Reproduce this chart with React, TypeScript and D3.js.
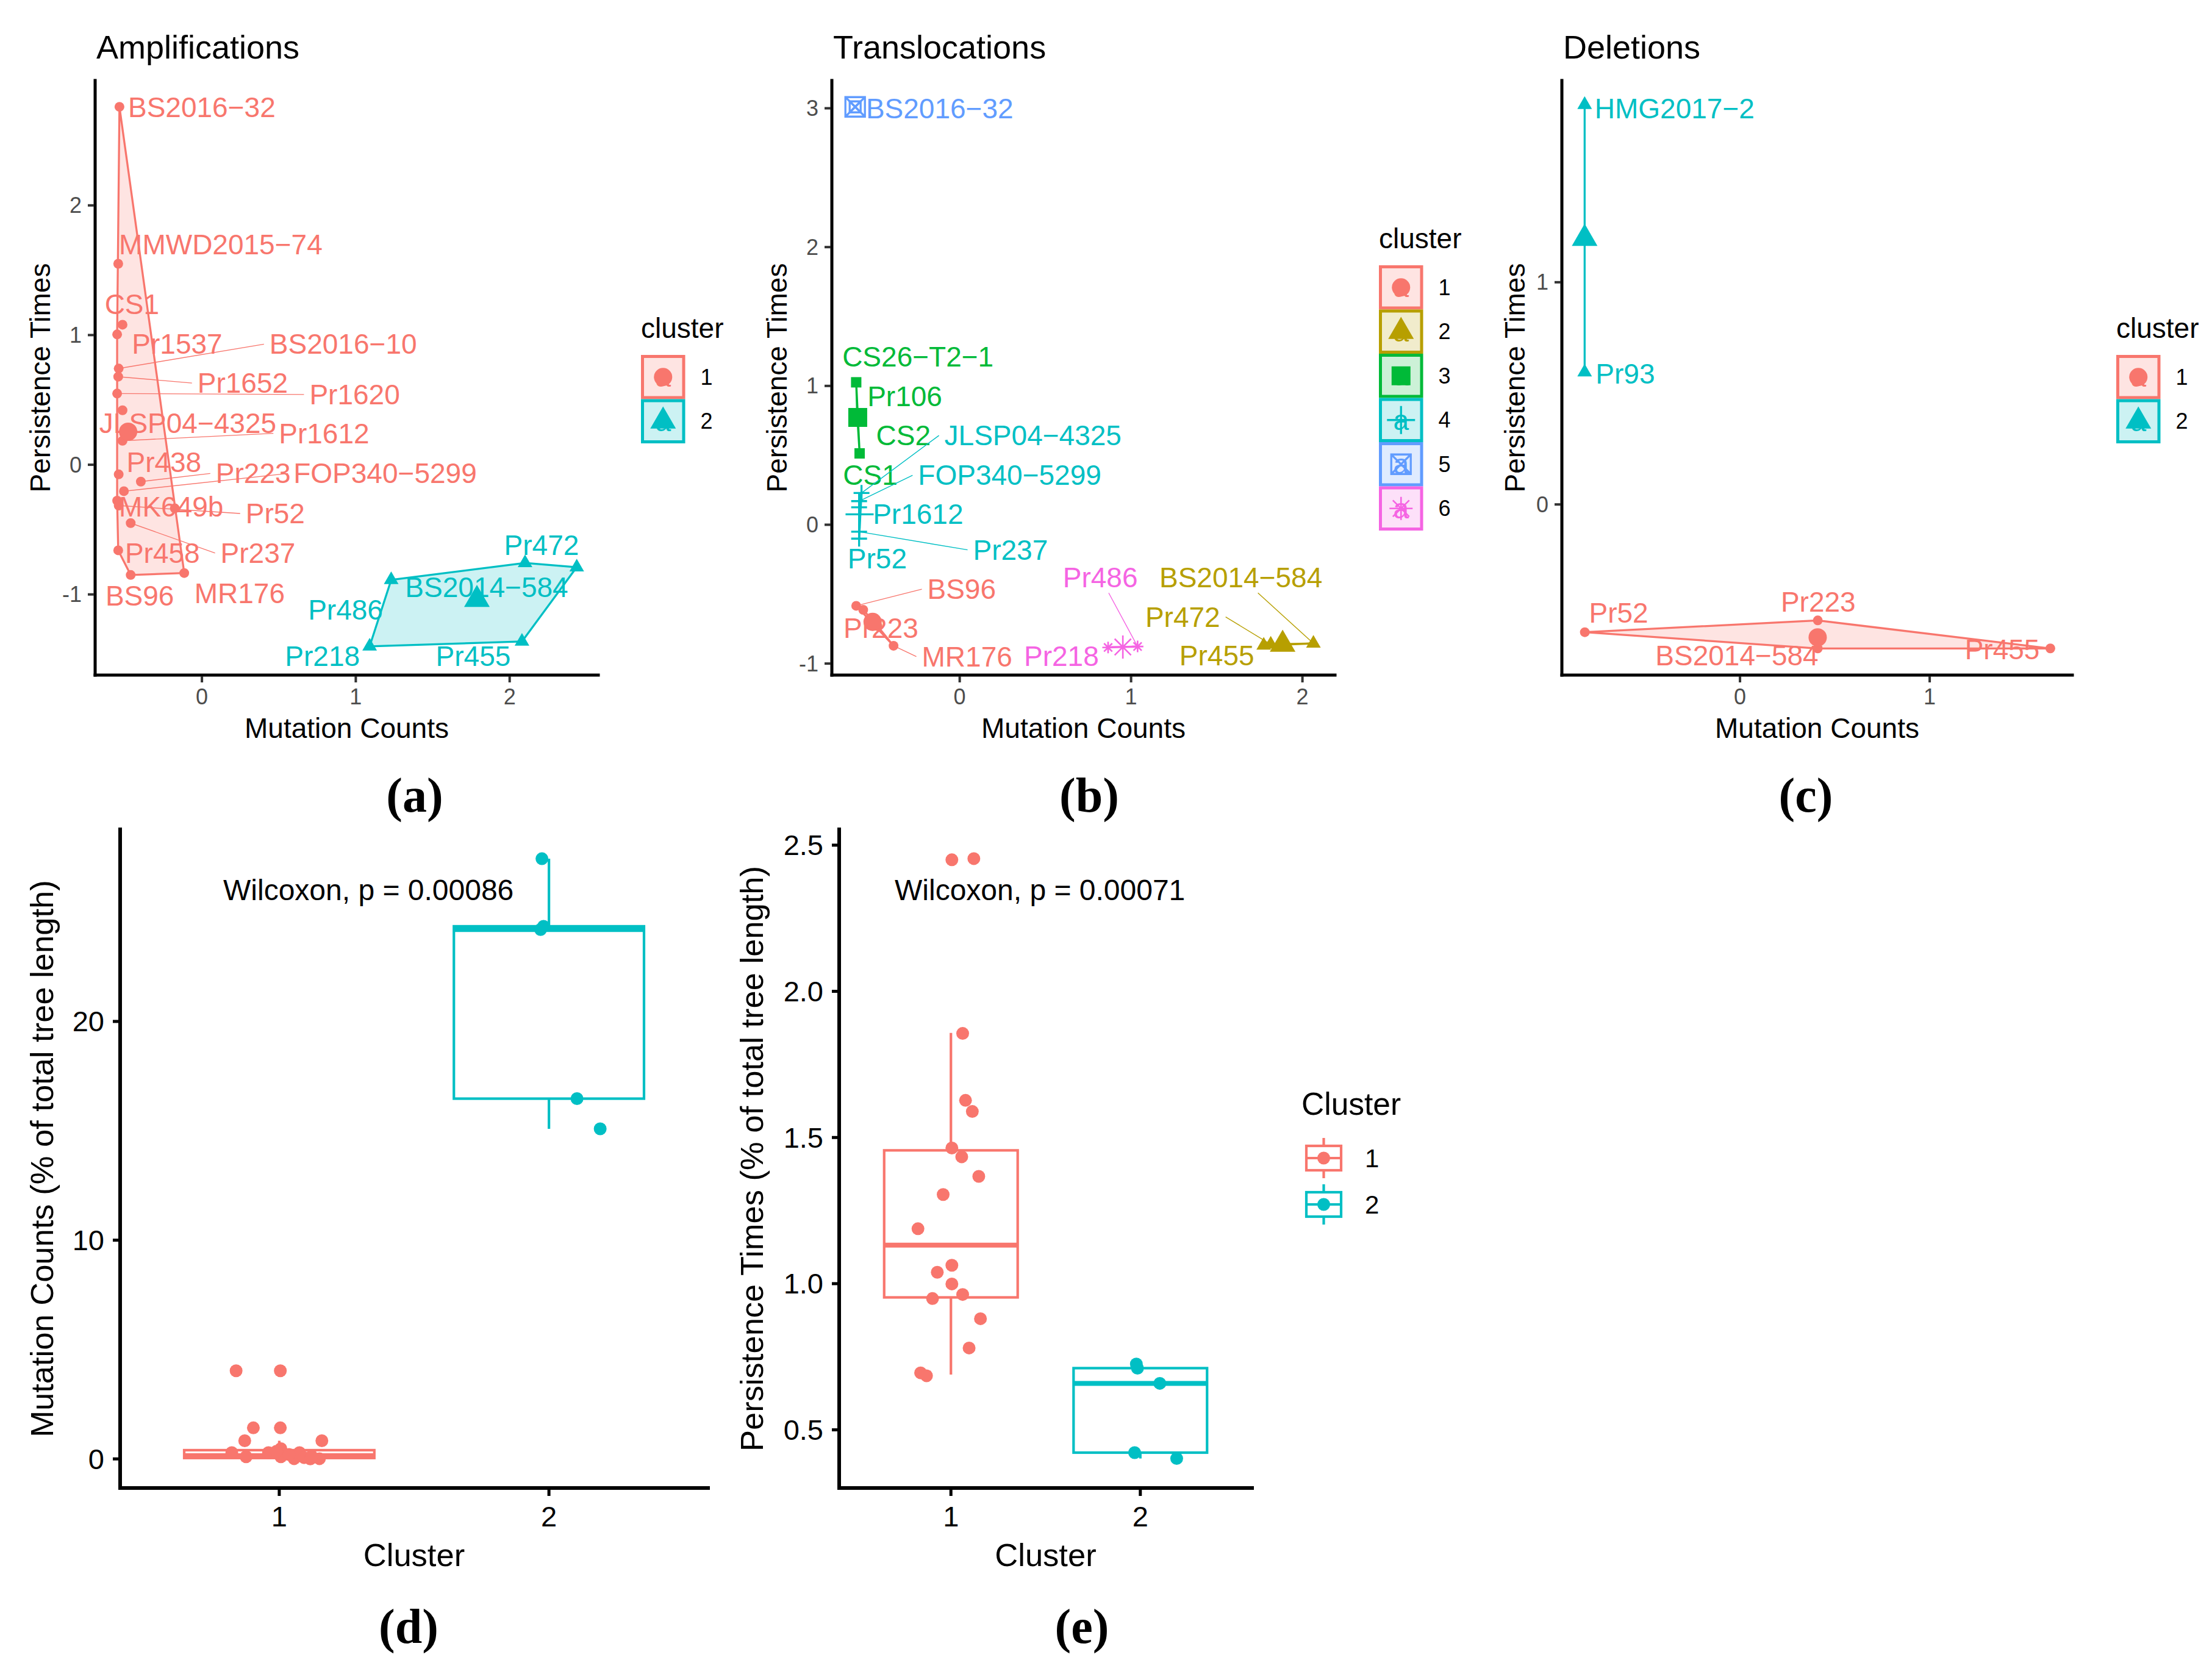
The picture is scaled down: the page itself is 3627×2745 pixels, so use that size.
import React, { useEffect } from "react";
import * as d3 from "d3";

const W = 3627;
const H = 2745;
const SANS = "'Liberation Sans', Arial, Helvetica, sans-serif";
const SERIF = "'Liberation Serif', 'DejaVu Serif', serif";

const hue2 = ["#F8766D", "#00BFC4"];
const hue6 = ["#F8766D", "#B79F00", "#00BA38", "#00BFC4", "#619CFF", "#F564E3"];

// ---- Amplifications (panel a) ----
const ampNames = [
  "BS2016-32", "MMWD2015-74", "CS1", "Pr1537", "BS2016-10", "Pr1652", "Pr1620",
  "JLSP04-4325", "Pr1612", "Pr438", "Pr223", "FOP340-5299", "MK649b", "Pr52", "",
  "Pr237", "Pr458", "BS96", "MR176",
  "Pr472", "BS2014-584", "Pr486", "Pr218", "Pr455",
];
const ampCluster = [1, 1, 1, 1, 1, 1, 1, 1, 1, 1, 1, 1, 1, 1, 1, 1, 1, 1, 1, 2, 2, 2, 2, 2];
const ampX = [
  -0.536, -0.544, -0.516, -0.551, -0.541, -0.544, -0.551, -0.516, -0.516, -0.541,
  -0.397, -0.507, -0.551, -0.541, -0.176, -0.463, -0.544, -0.463, -0.115,
  2.1, 2.436, 1.23, 1.09, 2.08,
];
const ampY = [
  2.76, 1.55, 1.08, 1.005, 0.742, 0.679, 0.549, 0.42, 0.185, -0.074,
  -0.13, -0.204, -0.277, -0.315, -0.336, -0.45, -0.66, -0.85, -0.835,
  -0.757, -0.79, -0.888, -1.4, -1.363,
];
const ampLabX = [
  -0.48, -0.539, -0.632, -0.455, 0.439, -0.029, 0.699, -0.667, 0.5, -0.49,
  0.09, 0.595, -0.539, 0.284, NaN, 0.121, -0.5, -0.627, -0.049,
  1.964, 1.321, 0.69, 0.54, 1.52,
];
const ampLabY = [
  2.757, 1.7, 1.236, 0.93, 0.93, 0.63, 0.542, 0.32, 0.242, 0.017,
  -0.067, -0.067, -0.326, -0.376, NaN, -0.681, -0.68, -1.013, -0.99,
  -0.62, -0.944, -1.12, -1.476, -1.476,
];

// ---- Translocations (panel b) ----
const trNames = [
  "BS96", "", "Pr223", "MR176",
  "Pr455", "Pr472", "BS2014-584",
  "CS26-T2-1", "Pr106", "CS2", "CS1",
  "JLSP04-4325", "FOP340-5299", "Pr1612", "Pr237", "Pr52",
  "BS2016-32",
  "Pr218", "Pr486",
];
const trCluster = [1, 1, 1, 1, 2, 2, 2, 3, 3, 3, 3, 4, 4, 4, 4, 4, 5, 6, 6];
const trX = [
  -0.604, -0.563, -0.48, -0.386,
  1.774, 1.815, 2.064,
  -0.604, -0.598, -0.594, -0.584,
  -0.573, -0.587, -0.587, -0.587, -0.587,
  -0.61,
  0.866, 1.038,
];
const trY = [
  -0.584, -0.613, -0.73, -0.872,
  -0.869, -0.862, -0.855,
  1.026, 0.79, 0.762, 0.514,
  0.229, 0.17, 0.126, -0.05, -0.1,
  3.01,
  -0.884, -0.877,
];
const trLabX = [
  -0.189, NaN, -0.678, -0.221,
  1.282, 1.083, 1.165,
  -0.685, -0.539, -0.488, -0.681,
  -0.089, -0.243, -0.507, 0.078, -0.654,
  -0.547,
  0.375, 0.602,
];
const trLabY = [
  -0.464, NaN, -0.745, -0.95,
  -0.942, -0.664, -0.379,
  1.21, 0.924, 0.643, 0.36,
  0.643, 0.356, 0.078, -0.181, -0.244,
  3.0,
  -0.949, -0.379,
];

// ---- Deletions (panel c) ----
const delNames = ["Pr52", "Pr223", "BS2014-584", "Pr455", "HMG2017-2", "Pr93"];
const delCluster = [1, 1, 1, 1, 2, 2];
const delX = [-0.818, 0.41, 0.41, 1.636, -0.819, -0.819];
const delY = [-0.575, -0.522, -0.648, -0.648, 1.799, 0.595];
const delLabX = [-0.796, 0.215, -0.446, 1.185, -0.766, -0.761];
const delLabY = [-0.488, -0.438, -0.68, -0.653, 1.783, 0.589];

// ---- Mutation counts box plot (panel d) ----
const mutJit1 = [0.84, 1.004, 0.904, 1.004, 0.872, 1.158, 0.824, 0.877, 0.96, 1.006, 1.006, 1.055, 1.075, 1.092, 1.115, 1.149, 1.036, 1.12, 0.99];
const mutVal1 = [4.03, 4.03, 1.42, 1.42, 0.83, 0.83, 0.29, 0.1, 0.29, 0.47, 0.1, 0.01, 0.29, 0.06, 0.0, 0.01, 0.2, 0.12, 0.35];
const mutJit2 = [1.974, 1.969, 1.98, 2.104, 2.19];
const mutVal2 = [27.44, 24.2, 24.35, 16.47, 15.09];
// [lower whisker, Q1, median, Q3, upper whisker]
const mutStats = [
  [0, 0.04, 0.15, 0.4, 0.83],
  [15.09, 16.47, 24.2, 24.35, 27.44],
];

// ---- Persistence times box plot (panel e) ----
const perJit1 = [1.005, 1.121, 1.062, 1.077, 1.113, 1.005, 1.057, 1.147, 0.959, 0.826, 1.005, 0.928, 1.005, 0.903, 1.062, 1.156, 1.096, 0.84, 0.871];
const perVal1 = [2.45, 2.454, 1.856, 1.627, 1.589, 1.464, 1.434, 1.367, 1.305, 1.188, 1.063, 1.039, 0.999, 0.949, 0.963, 0.88, 0.78, 0.695, 0.685];
const perJit2 = [1.979, 1.985, 2.103, 1.97, 2.192];
const perVal2 = [0.725, 0.711, 0.659, 0.422, 0.402];
const perStats = [
  [0.689, 0.953, 1.132, 1.456, 1.858],
  [0.402, 0.422, 0.659, 0.711, 0.725],
];

const boxCategories = ["1", "2"];
const perTicks = [0.5, 1.0, 1.5, 2.0, 2.5];
const mutTicks = [0, 10, 20];

type Shape = "circle" | "triangle" | "square" | "plus" | "boxcross" | "asterisk";
const shapeOrder: Shape[] = ["circle", "triangle", "square", "plus", "boxcross", "asterisk"];
const smallSize: Record<Shape, number> = { circle: 8, triangle: 24, square: 17, plus: 26, boxcross: 18, asterisk: 19 };
const bigSize: Record<Shape, number> = { circle: 15, triangle: 42, square: 31, plus: 46, boxcross: 32, asterisk: 38 };

let measureCtx: CanvasRenderingContext2D | null = null;
function textWidth(s: string, size: number) {
  if (!measureCtx) measureCtx = document.createElement("canvas").getContext("2d");
  if (!measureCtx) return s.length * size * 0.55;
  measureCtx.font = `${size}px 'Liberation Sans', Arial, sans-serif`;
  return measureCtx.measureText(s).width;
}

const minus = (s: string) => s.replace(/-/g, "\u2212");

function Marker({ shape, x, y, s, color }: { shape: Shape; x: number; y: number; s: number; color: string }) {
  const sw = 3.3;
  switch (shape) {
    case "circle":
      return <circle cx={x} cy={y} r={s} fill={color} />;
    case "triangle": {
      const h = (s * Math.sqrt(3)) / 2;
      return <path d={`M${x},${y - (2 * h) / 3}L${x + s / 2},${y + h / 3}L${x - s / 2},${y + h / 3}Z`} fill={color} />;
    }
    case "square":
      return <rect x={x - s / 2} y={y - s / 2} width={s} height={s} fill={color} />;
    case "plus":
      return <path d={`M${x - s / 2},${y}H${x + s / 2}M${x},${y - s / 2}V${y + s / 2}`} stroke={color} strokeWidth={sw} fill="none" />;
    case "boxcross": {
      const h = s / 2;
      return (
        <path
          d={`M${x - h},${y - h}H${x + h}V${y + h}H${x - h}ZM${x - h},${y - h}L${x + h},${y + h}M${x + h},${y - h}L${x - h},${y + h}`}
          stroke={color}
          strokeWidth={sw}
          fill="none"
        />
      );
    }
    case "asterisk": {
      const a = s / 2;
      const d = a * 0.7071;
      return (
        <path
          d={`M${x - a},${y}H${x + a}M${x},${y - a}V${y + a}M${x - d},${y - d}L${x + d},${y + d}M${x + d},${y - d}L${x - d},${y + d}`}
          stroke={color}
          strokeWidth={2.6}
          fill="none"
        />
      );
    }
  }
  return null;
}

interface Box {
  x0: number;
  x1: number;
  y0: number;
  y1: number;
}

interface ScatterProps {
  title: string;
  names: string[];
  cluster: number[];
  xs: number[];
  ys: number[];
  labX: number[];
  labY: number[];
  colors: string[];
  xDomain: [number, number];
  yDomain: [number, number];
  xTicks: number[];
  yTicks: number[];
  box: Box;
  yTitleX: number;
  legendX: number;
  legendTop: number;
}

function ScatterPanel(p: ScatterProps) {
  const { box } = p;
  const x = d3.scaleLinear().domain(p.xDomain).range([box.x0, box.x1]);
  const y = d3.scaleLinear().domain(p.yDomain).range([box.y1, box.y0]);
  const groups = p.colors.map((_, c) => d3.range(p.names.length).filter((i) => p.cluster[i] === c + 1));
  const labelSize = 46;
  const keyH = 72.5;

  return (
    <g>
      {/* hulls */}
      {groups.map((idx, c) => {
        const pts = idx.map((i) => [x(p.xs[i]), y(p.ys[i])] as [number, number]);
        const col = p.colors[c];
        if (pts.length >= 3) {
          const hull = d3.polygonHull(pts);
          if (!hull) return null;
          return (
            <path
              key={`h${c}`}
              d={`M${hull.map((q) => q.join(",")).join("L")}Z`}
              fill={col}
              fillOpacity={0.2}
              stroke={col}
              strokeWidth={3.3}
              strokeLinejoin="round"
            />
          );
        }
        if (pts.length === 2) {
          return <path key={`h${c}`} d={`M${pts[0].join(",")}L${pts[1].join(",")}`} stroke={col} strokeWidth={3.3} />;
        }
        return null;
      })}
      {/* points */}
      {p.names.map((_, i) => (
        <Marker
          key={`p${i}`}
          shape={shapeOrder[p.cluster[i] - 1]}
          x={x(p.xs[i])}
          y={y(p.ys[i])}
          s={smallSize[shapeOrder[p.cluster[i] - 1]]}
          color={p.colors[p.cluster[i] - 1]}
        />
      ))}
      {/* centroids */}
      {groups.map((idx, c) => {
        const cx = d3.mean(idx, (i) => p.xs[i]) as number;
        const cy = d3.mean(idx, (i) => p.ys[i]) as number;
        return <Marker key={`c${c}`} shape={shapeOrder[c]} x={x(cx)} y={y(cy)} s={bigSize[shapeOrder[c]]} color={p.colors[c]} />;
      })}
      {/* repelled labels */}
      {p.names.map((name, i) => {
        if (!name) return null;
        const col = p.colors[p.cluster[i] - 1];
        const lx = x(p.labX[i]);
        const ly = y(p.labY[i]);
        const px = x(p.xs[i]);
        const py = y(p.ys[i]);
        const txt = minus(name);
        const w = textWidth(txt, labelSize);
        const pad = 9;
        const l = lx - pad;
        const r = lx + w + pad;
        const t = ly - 16.5 - pad;
        const b = ly + 16.5 + pad;
        const dx = Math.max(l - px, 0, px - r);
        const dy = Math.max(t - py, 0, py - b);
        let seg: React.ReactNode = null;
        if (Math.hypot(dx, dy) > 26) {
          let sx: number;
          let sy: number;
          if (px < l) {
            sx = l;
            sy = ly;
          } else if (px > r) {
            sx = r;
            sy = ly;
          } else {
            const cx = lx + w / 2;
            sy = py > ly ? b : t;
            sx = cx + ((sy - ly) / (py - ly)) * (px - cx);
          }
          seg = <line x1={sx} y1={sy} x2={px} y2={py} stroke={col} strokeWidth={1.4} />;
        }
        return (
          <g key={`l${i}`}>
            {seg}
            <text x={lx} y={ly} dominantBaseline="central" fontSize={labelSize} fill={col}>
              {txt}
            </text>
          </g>
        );
      })}
      {/* axes */}
      <line x1={box.x0} x2={box.x1} y1={box.y1} y2={box.y1} stroke="#000" strokeWidth={5} strokeLinecap="square" />
      <line x1={box.x0} x2={box.x0} y1={box.y0} y2={box.y1} stroke="#000" strokeWidth={5} strokeLinecap="square" />
      {p.xTicks.map((v) => (
        <g key={`xt${v}`}>
          <line x1={x(v)} x2={x(v)} y1={box.y1 + 2} y2={box.y1 + 12} stroke="#333333" strokeWidth={4} />
          <text x={x(v)} y={box.y1 + 48} textAnchor="middle" fontSize={36} fill="#4D4D4D">
            {v < 0 ? `-${Math.abs(v)}` : v}
          </text>
        </g>
      ))}
      {p.yTicks.map((v) => (
        <g key={`yt${v}`}>
          <line x1={box.x0 - 12} x2={box.x0 - 2} y1={y(v)} y2={y(v)} stroke="#333333" strokeWidth={4} />
          <text x={box.x0 - 22} y={y(v)} dominantBaseline="central" textAnchor="end" fontSize={36} fill="#4D4D4D">
            {v < 0 ? `-${Math.abs(v)}` : v}
          </text>
        </g>
      ))}
      <text x={box.x0 + 2} y={96} fontSize={54} fill="#000">
        {p.title}
      </text>
      <text x={(box.x0 + box.x1) / 2} y={1210} textAnchor="middle" fontSize={46} fill="#000">
        Mutation Counts
      </text>
      <text
        transform={`translate(${p.yTitleX},${(box.y0 + box.y1) / 2}) rotate(-90)`}
        textAnchor="middle"
        fontSize={46}
        fill="#000"
      >
        Persistence Times
      </text>
      {/* legend */}
      <text x={p.legendX} y={p.legendTop - 28} fontSize={46} fill="#000">
        cluster
      </text>
      {p.colors.map((col, c) => {
        const ky = p.legendTop + c * keyH;
        const kcx = p.legendX + keyH / 2;
        const kcy = ky + keyH / 2;
        const shape = shapeOrder[c];
        return (
          <g key={`k${c}`}>
            <rect x={p.legendX + 2.5} y={ky + 2.5} width={keyH - 5} height={keyH - 5} fill={col} fillOpacity={0.2} stroke={col} strokeWidth={5} />
            <text x={kcx} y={kcy} textAnchor="middle" dominantBaseline="central" fontSize={46} fill={col}>
              a
            </text>
            <Marker shape={shape} x={kcx} y={kcy} s={bigSize[shape]} color={col} />
            <text x={p.legendX + keyH + 25} y={kcy} dominantBaseline="central" fontSize={36} fill="#000">
              {c + 1}
            </text>
          </g>
        );
      })}
    </g>
  );
}

interface BoxProps {
  jit: number[][];
  vals: number[][];
  stats: number[][];
  yDomain: [number, number];
  yTicks: number[];
  yFormat: (v: number) => string;
  box: Box;
  yTitle: string;
  yTitleX: number;
  pText: string;
  pX: number;
  legend?: boolean;
}

function BoxPanel(p: BoxProps) {
  const { box } = p;
  const x = d3.scaleLinear().domain([0.41, 2.59]).range([box.x0, box.x1]);
  const y = d3.scaleLinear().domain(p.yDomain).range([box.y1, box.y0]);
  const half = 0.3525;
  const sw = 4.2;
  return (
    <g>
      {p.stats.map((s, c) => {
        const col = hue2[c];
        const cx = x(c + 1);
        return (
          <g key={`b${c}`}>
            <line x1={cx} x2={cx} y1={y(s[0])} y2={y(s[1])} stroke={col} strokeWidth={sw} />
            <line x1={cx} x2={cx} y1={y(s[3])} y2={y(s[4])} stroke={col} strokeWidth={sw} />
            <rect
              x={x(c + 1 - half)}
              y={y(s[3])}
              width={x(c + 1 + half) - x(c + 1 - half)}
              height={y(s[1]) - y(s[3])}
              fill="#fff"
              stroke={col}
              strokeWidth={sw}
            />
            <line x1={x(c + 1 - half)} x2={x(c + 1 + half)} y1={y(s[2])} y2={y(s[2])} stroke={col} strokeWidth={8} />
          </g>
        );
      })}
      {p.vals.map((vs, c) =>
        vs.map((v, i) => <circle key={`pt${c}-${i}`} cx={x(p.jit[c][i])} cy={y(v)} r={10.5} fill={hue2[c]} />)
      )}
      <line x1={box.x0} x2={box.x1} y1={box.y1} y2={box.y1} stroke="#000" strokeWidth={6} strokeLinecap="square" />
      <line x1={box.x0} x2={box.x0} y1={box.y0} y2={box.y1} stroke="#000" strokeWidth={6} strokeLinecap="square" />
      {boxCategories.map((cat, c) => (
        <g key={`xt${cat}`}>
          <line x1={x(c + 1)} x2={x(c + 1)} y1={box.y1} y2={box.y1 + 13} stroke="#000" strokeWidth={5} />
          <text x={x(c + 1)} y={2503} textAnchor="middle" fontSize={47} fill="#000">
            {cat}
          </text>
        </g>
      ))}
      {p.yTicks.map((v) => (
        <g key={`yt${v}`}>
          <line x1={box.x0 - 12} x2={box.x0} y1={y(v)} y2={y(v)} stroke="#000" strokeWidth={5} />
          <text x={box.x0 - 26} y={y(v)} dominantBaseline="central" textAnchor="end" fontSize={47} fill="#000">
            {p.yFormat(v)}
          </text>
        </g>
      ))}
      <text x={p.pX} y={1476} fontSize={48} fill="#000">
        {p.pText}
      </text>
      <text x={(box.x0 + box.x1) / 2} y={2568} textAnchor="middle" fontSize={52.5} fill="#000">
        Cluster
      </text>
      <text
        transform={`translate(${p.yTitleX},${(box.y0 + box.y1) / 2}) rotate(-90)`}
        textAnchor="middle"
        fontSize={52.5}
        fill="#000"
      >
        {p.yTitle}
      </text>
      {p.legend && (
        <g>
          <text x={2134} y={1828} fontSize={51.5} fill="#000">
            Cluster
          </text>
          {hue2.map((col, c) => {
            const cy = 1899 + c * 76;
            return (
              <g key={`lk${c}`}>
                <line x1={2170.5} x2={2170.5} y1={cy - 33} y2={cy + 33} stroke={col} strokeWidth={sw} />
                <rect x={2142} y={cy - 20} width={57} height={40} fill="#fff" stroke={col} strokeWidth={sw} />
                <line x1={2142} x2={2199} y1={cy} y2={cy} stroke={col} strokeWidth={sw} />
                <circle cx={2170.5} cy={cy} r={10.5} fill={col} />
                <text x={2238} y={cy} dominantBaseline="central" fontSize={42} fill="#000">
                  {boxCategories[c]}
                </text>
              </g>
            );
          })}
        </g>
      )}
    </g>
  );
}

const panelLetters = [
  { t: "(a)", x: 680, y: 1331 },
  { t: "(b)", x: 1786, y: 1331 },
  { t: "(c)", x: 2961, y: 1331 },
  { t: "(d)", x: 670, y: 2694 },
  { t: "(e)", x: 1774, y: 2694 },
];

export default function App() {
  useEffect(() => {
    document.body.style.margin = "0";
  }, []);

  return (
    <svg width={W} height={H} viewBox={`0 0 ${W} ${H}`} style={{ display: "block" }} fontFamily={SANS}>
      <rect width={W} height={H} fill="#fff" />
      <ScatterPanel
        title="Amplifications"
        names={ampNames}
        cluster={ampCluster}
        xs={ampX}
        ys={ampY}
        labX={ampLabX}
        labY={ampLabY}
        colors={hue2}
        xDomain={[-0.694, 2.576]}
        yDomain={[-1.622, 2.963]}
        xTicks={[0, 1, 2]}
        yTicks={[-1, 0, 1, 2]}
        box={{ x0: 156, x1: 981, y0: 132, y1: 1107 }}
        yTitleX={82}
        legendX={1051}
        legendTop={582}
      />
      <ScatterPanel
        title="Translocations"
        names={trNames}
        cluster={trCluster}
        xs={trX}
        ys={trY}
        labX={trLabX}
        labY={trLabY}
        colors={hue6}
        xDomain={[-0.746, 2.19]}
        yDomain={[-1.083, 3.2]}
        xTicks={[0, 1, 2]}
        yTicks={[-1, 0, 1, 2, 3]}
        box={{ x0: 1364, x1: 2189, y0: 132, y1: 1107 }}
        yTitleX={1290}
        legendX={2261}
        legendTop={435}
      />
      <ScatterPanel
        title="Deletions"
        names={delNames}
        cluster={delCluster}
        xs={delX}
        ys={delY}
        labX={delLabX}
        labY={delLabY}
        colors={hue2}
        xDomain={[-0.939, 1.752]}
        yDomain={[-0.768, 1.908]}
        xTicks={[0, 1]}
        yTicks={[0, 1]}
        box={{ x0: 2561, x1: 3398, y0: 132, y1: 1107 }}
        yTitleX={2500}
        legendX={3470}
        legendTop={582}
      />
      <BoxPanel
        jit={[mutJit1, mutJit2]}
        vals={[mutVal1, mutVal2]}
        stats={mutStats}
        yDomain={[-1.33, 28.78]}
        yTicks={mutTicks}
        yFormat={(v) => String(v)}
        box={{ x0: 197, x1: 1161, y0: 1360, y1: 2440 }}
        yTitle="Mutation Counts (% of total tree length)"
        yTitleX={87}
        pText="Wilcoxon, p = 0.00086"
        pX={366}
      />
      <BoxPanel
        jit={[perJit1, perJit2]}
        vals={[perVal1, perVal2]}
        stats={perStats}
        yDomain={[0.301, 2.554]}
        yTicks={perTicks}
        yFormat={(v) => v.toFixed(1)}
        box={{ x0: 1376, x1: 2053, y0: 1360, y1: 2440 }}
        yTitle="Persistence Times (% of total tree length)"
        yTitleX={1251}
        pText="Wilcoxon, p = 0.00071"
        pX={1467}
        legend
      />
      {panelLetters.map((d) => (
        <text key={d.t} x={d.x} y={d.y} textAnchor="middle" fontFamily={SERIF} fontWeight="bold" fontSize={80} fill="#000">
          {d.t}
        </text>
      ))}
    </svg>
  );
}
